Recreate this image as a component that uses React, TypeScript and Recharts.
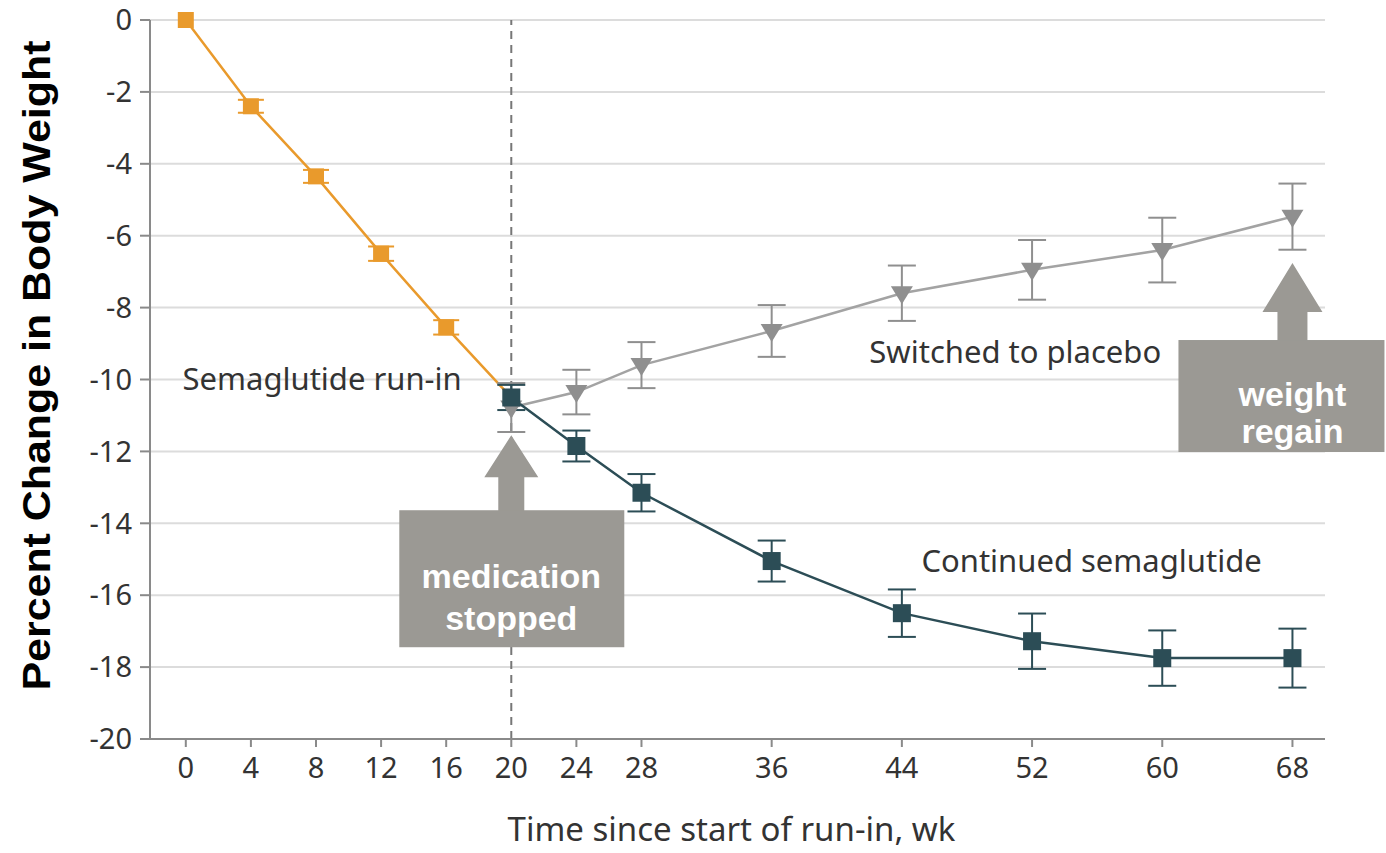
import React from "react";
import { LineChart, Line, XAxis, YAxis, CartesianGrid, ErrorBar, ReferenceLine, ReferenceDot, Label } from "recharts";

// weeks since start of run-in
const runInWeeks = [0, 4, 8, 12, 16, 20];
const runInChange = [0, -2.4, -4.35, -6.5, -8.55, -10.5];
const runInError = [0, 0.18, 0.18, 0.2, 0.2, 0];

const trialWeeks = [20, 24, 28, 36, 44, 52, 60, 68];
const continuedChange = [-10.5, -11.85, -13.15, -15.05, -16.5, -17.28, -17.75, -17.75];
const continuedError = [0.35, 0.43, 0.52, 0.57, 0.66, 0.77, 0.77, 0.82];
const placeboChange = [-10.78, -10.35, -9.6, -8.65, -7.6, -6.95, -6.4, -5.47];
const placeboError = [0.68, 0.62, 0.64, 0.72, 0.77, 0.83, 0.9, 0.92];

const xTicks = [0, 4, 8, 12, 16, 20, 24, 28, 36, 44, 52, 60, 68];
const yTicks = [0, -2, -4, -6, -8, -10, -12, -14, -16, -18, -20];

const stopWeek = 20;

const seriesLabels = [
  { text: "Semaglutide run-in", week: -0.2, value: -10.29 },
  { text: "Switched to placebo", week: 42.0, value: -9.54 },
  { text: "Continued semaglutide", week: 45.2, value: -15.35 },
];

const callouts = [
  { lines: ["medication", "stopped"], week: 20, value: -11.55 },
  { lines: ["weight", "regain"], week: 68, value: -6.76 },
];

const ORANGE = "#e99a2c";
const TEAL = "#2c4d56";
const GRAY = "#a3a3a3";
const BOX = "#9b9994";
const TEXT_FONT = "'Noto Sans', 'Open Sans', sans-serif";

const runInData = runInWeeks.map((w, i) => ({ week: w, value: runInChange[i], err: runInError[i] }));
const continuedData = trialWeeks.map((w, i) => ({ week: w, value: continuedChange[i], err: continuedError[i] }));
const placeboData = trialWeeks.map((w, i) => ({ week: w, value: placeboChange[i], err: placeboError[i] }));

const Square = (size: number, color: string) => (props: any) => {
  const { cx, cy, index } = props;
  if (cx == null || cy == null) return <g key={index} />;
  return <rect key={index} x={cx - size / 2} y={cy - size / 2} width={size} height={size} fill={color} />;
};

const Triangle = (props: any) => {
  const { cx, cy, index } = props;
  if (cx == null || cy == null) return <g key={index} />;
  return <path key={index} d={`M${cx - 11},${cy - 7} L${cx + 11},${cy - 7} L${cx},${cy + 11} Z`} fill="#8f8f8f" />;
};

const SeriesText = (text: string) => (props: any) => (
  <text
    x={props.cx}
    y={props.cy}
    fontSize={31}
    fill="#333"
    fontFamily={TEXT_FONT}
    style={{ fontStretch: "condensed" }}
  >
    {text}
  </text>
);

// upward arrow on top of a grey box, tip at the anchor point
const ArrowBox = (lines: string[], wide: boolean) => (props: any) => {
  const { cx, cy } = props;
  const headH = wide ? 49 : 42;
  const headW = wide ? 30 : 27;
  const shaftW = wide ? 15 : 13;
  const boxTop = wide ? 77 : 75;
  const boxBottom = wide ? 189 : 212;
  const left = wide ? 114 : 112;
  const right = wide ? 92 : 113;
  const base = wide ? 143 : 153;
  const lineGap = wide ? 37 : 42;
  return (
    <g>
      <path
        d={`M${cx},${cy} L${cx + headW},${cy + headH} L${cx + shaftW},${cy + headH} L${cx + shaftW},${cy + boxTop + 1} L${cx - shaftW},${cy + boxTop + 1} L${cx - shaftW},${cy + headH} L${cx - headW},${cy + headH} Z`}
        fill={BOX}
      />
      <rect x={cx - left} y={cy + boxTop} width={left + right} height={boxBottom - boxTop} fill={BOX} />
      {lines.map((l, i) => (
        <text
          key={l}
          x={cx}
          y={cy + base + i * lineGap}
          textAnchor="middle"
          fill="#fff"
          fontSize={34}
          fontWeight="bold"
          fontFamily="'Liberation Sans', Arial, sans-serif"
        >
          {l}
        </text>
      ))}
    </g>
  );
};

export default function App() {
  return (
    <div style={{ position: "absolute", left: 0, top: 0, background: "#fff" }}>
      <LineChart width={1386} height={853} margin={{ top: 20, right: 61, left: 0, bottom: 0 }}>
        <CartesianGrid vertical={false} stroke="#dcdcdc" strokeWidth={2} />
        <XAxis
          type="number"
          dataKey="week"
          domain={[-2.2, 70]}
          ticks={xTicks}
          height={114}
          stroke="#8a8a8a"
          strokeWidth={2}
          tickSize={8}
          tickMargin={10}
          tick={{ fontSize: 29, fill: "#333", fontFamily: TEXT_FONT, style: { fontStretch: "condensed" } }}
        >
          <Label
            value="Time since start of run-in, wk"
            position="insideBottom"
            offset={12}
            dx={-6}
            fontSize={33}
            fill="#333"
            fontFamily={TEXT_FONT}
            style={{ fontStretch: "condensed" }}
          />
        </XAxis>
        <YAxis
          type="number"
          domain={[-20, 0]}
          ticks={yTicks}
          width={150}
          stroke="#8a8a8a"
          strokeWidth={2}
          tickSize={10}
          tickMargin={8}
          tick={{ fontSize: 29, fill: "#333", fontFamily: TEXT_FONT, style: { fontStretch: "condensed" } }}
        >
          <Label
            content={(p: any) => {
              const vb = p.viewBox;
              const x = vb.x + 50;
              const y = vb.y + vb.height / 2 - 14;
              return (
                <text
                  x={x}
                  y={y}
                  transform={`rotate(-90, ${x}, ${y})`}
                  textAnchor="middle"
                  fontSize={38}
                  textLength={650}
                  lengthAdjust="spacingAndGlyphs"
                  fontWeight="bold"
                  fill="#000"
                  fontFamily="'Liberation Sans', Arial, sans-serif"
                >
                  Percent Change in Body Weight
                </text>
              );
            }}
          />
        </YAxis>
        <ReferenceLine x={stopWeek} stroke="#777" strokeWidth={2} strokeDasharray="8 6" />
        <Line
          data={runInData}
          dataKey="value"
          stroke={ORANGE}
          strokeWidth={2.5}
          dot={Square(16, ORANGE)}
          activeDot={false}
          isAnimationActive={false}
        >
          <ErrorBar dataKey="err" width={13} stroke={ORANGE} strokeWidth={2} direction="y" />
        </Line>
        <Line
          data={placeboData}
          dataKey="value"
          stroke={GRAY}
          strokeWidth={2.5}
          dot={Triangle}
          activeDot={false}
          isAnimationActive={false}
        >
          <ErrorBar dataKey="err" width={14} stroke="#8f8f8f" strokeWidth={2} direction="y" />
        </Line>
        <Line
          data={continuedData}
          dataKey="value"
          stroke={TEAL}
          strokeWidth={2.5}
          dot={Square(18, TEAL)}
          activeDot={false}
          isAnimationActive={false}
        >
          <ErrorBar dataKey="err" width={14} stroke={TEAL} strokeWidth={2} direction="y" />
        </Line>
        {seriesLabels.map((s) => (
          <ReferenceDot key={s.text} x={s.week} y={s.value} ifOverflow="visible" shape={SeriesText(s.text)} />
        ))}
        {callouts.map((c, i) => (
          <ReferenceDot key={c.lines[0]} x={c.week} y={c.value} ifOverflow="visible" shape={ArrowBox(c.lines, i === 1)} />
        ))}
      </LineChart>
    </div>
  );
}
